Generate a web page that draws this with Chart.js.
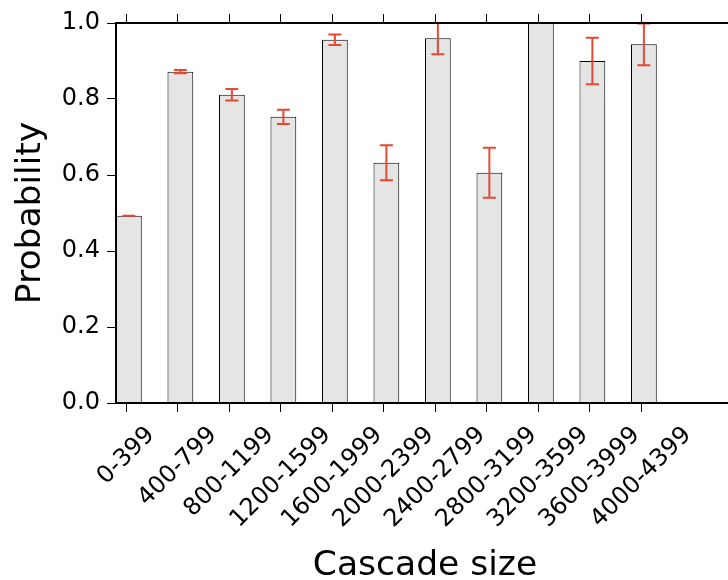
<!DOCTYPE html>
<html>
<head>
<meta charset="utf-8">
<script src="https://cdn.jsdelivr.net/npm/chart.js@4.4.0/dist/chart.umd.min.js"></script>
<style>
  html, body { margin: 0; padding: 0; background: #fff; overflow: hidden; }
  #wrap { width: 740px; height: 580px; }
</style>
</head>
<body>
<div id="wrap"><canvas id="cascade-chart" width="740" height="580"></canvas></div>
<script>
const categories = ["0-399", "400-799", "800-1199", "1200-1599", "1600-1999", "2000-2399",
  "2400-2799", "2800-3199", "3200-3599", "3600-3999", "4000-4399"];
const probabilities = [0.493, 0.872, 0.811, 0.753, 0.956, 0.632, 0.960, 0.606, 1.0, 0.900, 0.944];
const errors = [0, 0.004, 0.015, 0.019, 0.014, 0.046, 0.042, 0.066, 0, 0.061, 0.055];
const yTicks = [0, 0.2, 0.4, 0.6, 0.8, 1.0];

// bars sit from i-0.2 to i+0.3 (edge aligned), so their centre is a bit right of the tick
const barShift = 0.05;
const tickFont = { family: "DejaVu Sans", size: 24 };
const titleFont = { family: "DejaVu Sans", size: 34.5, lineHeight: 0.8 };

const categoryTicks = scale => { scale.ticks = categories.map((c, i) => ({ value: i })); };

const errorBars = {
  id: "errorBars",
  afterDatasetsDraw(chart) {
    const { ctx, chartArea, scales: { x, y } } = chart;
    ctx.save();
    ctx.beginPath();
    ctx.rect(chartArea.left, chartArea.top, chartArea.right - chartArea.left, chartArea.bottom - chartArea.top);
    ctx.clip();
    ctx.strokeStyle = "#e24a33";
    ctx.lineWidth = 2;
    probabilities.forEach((p, i) => {
      const px = x.getPixelForValue(i + barShift);
      const top = y.getPixelForValue(p + errors[i]);
      const bottom = y.getPixelForValue(p - errors[i]);
      ctx.beginPath();
      ctx.moveTo(px, top); ctx.lineTo(px, bottom);
      ctx.moveTo(px - 6.5, top); ctx.lineTo(px + 6.5, top);
      ctx.moveTo(px - 6.5, bottom); ctx.lineTo(px + 6.5, bottom);
      ctx.stroke();
    });
    ctx.restore();
  }
};

// matplotlib-style rotated labels: bounding box centred under the tick
const rotatedLabels = {
  id: "rotatedLabels",
  afterDraw(chart) {
    const { ctx, scales: { x } } = chart;
    ctx.save();
    ctx.font = tickFont.size + 'px "' + tickFont.family + '"';
    ctx.fillStyle = "#000";
    ctx.textAlign = "center";
    ctx.textBaseline = "middle";
    categories.forEach((label, i) => {
      const px = x.getPixelForValue(i);
      const w = ctx.measureText(label).width;
      const cy = x.top + 22 + (w + 0.73 * tickFont.size) * Math.SQRT1_2 / 2;
      ctx.setTransform(1, 0, 0, 1, px, cy);
      ctx.rotate(-Math.PI / 4);
      ctx.fillText(label, 0, 0);
    });
    ctx.restore();
  }
};

const axisGrid = { drawOnChartArea: false, drawTicks: true, tickLength: 9, color: "#000", lineWidth: 1, offset: false };
const axisBorder = { color: "#000", width: 2, z: 1 };

const context = document.querySelector("#cascade-chart").getContext("2d");
const chart = new Chart(context, {
  type: "bar",
  data: {
    datasets: [{
      label: "Probability",
      data: probabilities.map((p, i) => ({ x: i + barShift, y: p })),
      backgroundColor: "#e5e5e5",
      borderColor: "#000",
      borderWidth: 1,
      barPercentage: 0.5,
      categoryPercentage: 1
    }]
  },
  options: {
    responsive: false,
    animation: false,
    devicePixelRatio: 1,
    layout: { padding: { top: 14, right: 6, bottom: 0, left: 0 } },
    plugins: { legend: { display: false }, tooltip: { enabled: false } },
    scales: {
      x: {
        type: "linear",
        position: "bottom",
        offset: false,
        min: -0.2,
        max: 11.8,
        afterBuildTicks: categoryTicks,
        ticks: { display: false },
        grid: axisGrid,
        border: axisBorder,
        title: { display: true, text: "Cascade size", color: "#000", font: titleFont, padding: 0 },
        afterFit: scale => { scale.height = 177; }
      },
      xTop: {
        type: "linear",
        position: "top",
        offset: false,
        min: -0.2,
        max: 11.8,
        afterBuildTicks: categoryTicks,
        ticks: { display: false },
        grid: axisGrid,
        border: axisBorder,
        afterFit: scale => { scale.height = 9; }
      },
      y: {
        type: "linear",
        min: 0,
        max: 1,
        afterBuildTicks: scale => { scale.ticks = yTicks.map(v => ({ value: v })); },
        ticks: { color: "#000", font: tickFont, padding: 7, callback: v => v.toFixed(1) },
        grid: axisGrid,
        border: axisBorder,
        title: { display: true, text: "Probability", color: "#000", font: titleFont, padding: { top: 17, bottom: 0 } },
        afterFit: scale => { scale.width = 116; }
      }
    }
  },
  plugins: [errorBars, rotatedLabels]
});
</script>
</body>
</html>
